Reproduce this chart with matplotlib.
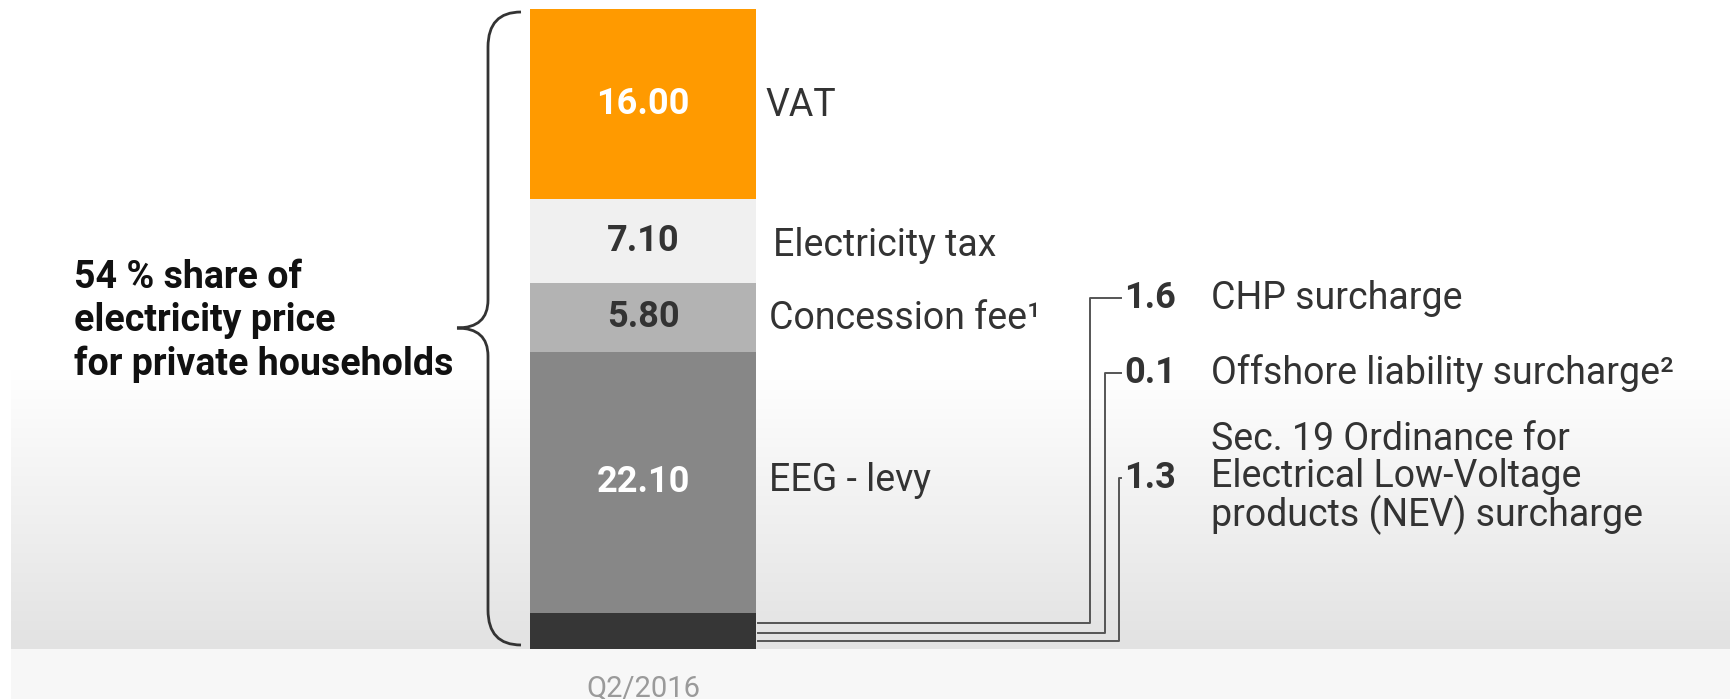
import numpy as np
import matplotlib.pyplot as plt
from matplotlib.path import Path
from matplotlib.patches import PathPatch, Rectangle

plt.rcParams["font.family"] = ["Roboto", "DejaVu Sans"]

# breakdown of the small dark segment at the bottom of the bar
small_values = [1.6, 0.1, 1.3]
small_labels = [
    "CHP surcharge",
    "Offshore liability surcharge\u00b2",
    "Sec. 19 Ordinance for\nElectrical Low-Voltage\nproducts (NEV) surcharge",
]

# stacked segments, bottom to top
seg_labels = ["", "EEG - levy", "Concession fee\u00b9", "Electricity tax", "VAT"]
seg_values = [sum(small_values), 22.10, 5.80, 7.10, 16.00]
seg_colors = ["#363636", "#878787", "#b3b3b3", "#f0f0f0", "#ff9a00"]
seg_text_colors = [None, "white", "#333333", "#333333", "white"]
period = "Q2/2016"

# layout (pixels / value units)
W, H = 1731, 699
bar_top, bar_bottom = 9, 649
bar_left, bar_right = 530, 756
label_dx = [0, 13, 13, 17, 9]           # label offsets right of the bar (px)
label_dy = [0, -2, 1, 5, 2]             # label offsets below segment middle (px)
small_label_y = [29.6, 23.3, 14.4]      # where the small labels sit (value units)
small_line_frac = [0.73, 0.45, 0.22]    # where connectors leave the dark segment
small_line_x = [1090, 1105, 1119]

total = sum(seg_values)
scale = (bar_bottom - bar_top) / total  # pixels per unit

fig = plt.figure(figsize=(W / 100, H / 100), dpi=100)

# background layer in pixel coordinates
bg = fig.add_axes([0, 0, 1, 1], zorder=0)
rows = np.arange(bar_bottom)
t = np.clip((rows - 370) / (bar_bottom - 370), 0, 1)
shade = 1 - t * (1 - 0xe2 / 255)
grad = np.repeat(shade[:, None], 3, axis=1)[:, None, :]
bg.imshow(grad, extent=(11, W, bar_bottom, 0), aspect="auto", interpolation="bilinear")
bg.add_patch(Rectangle((11, bar_bottom), W - 11, H - bar_bottom, color="#f7f7f7", lw=0))
bg.set_xlim(0, W)
bg.set_ylim(H, 0)
bg.axis("off")

# curly brace
P = Path
verts = [(521, 12), (488, 12), (488, 47), (488, 300), (488, 328), (457, 328),
         (488, 328), (488, 356), (488, 610), (488, 645), (521, 645)]
codes = [P.MOVETO, P.CURVE3, P.CURVE3, P.LINETO, P.CURVE3, P.CURVE3,
         P.CURVE3, P.CURVE3, P.LINETO, P.CURVE3, P.CURVE3]
bg.add_patch(PathPatch(Path(verts, codes), fill=False, edgecolor="#333333", lw=2))

bg.text(74, 321, f"{total:.0f} % share of\nelectricity price\nfor private households",
        ha="left", va="center", fontsize=27, fontweight="bold", color="#111111",
        linespacing=1.2)
bg.text((bar_left + bar_right) / 2, 675, period, ha="center", va="top",
        fontsize=21, color="#9a9a9a")

# bar layer: x in pixels, y in value units
ax = fig.add_axes([0, 0, 1, 1], zorder=2)
ax.patch.set_alpha(0)
ax.set_xlim(0, W)
ax.set_ylim(-(H - bar_bottom) / scale, total + bar_top / scale)
ax.axis("off")

xc = (bar_left + bar_right) / 2
bottom = 0
for lab, v, c, tc, dx, dy in zip(seg_labels, seg_values, seg_colors,
                                 seg_text_colors, label_dx, label_dy):
    ax.bar(xc, v, width=bar_right - bar_left, bottom=bottom, color=c, linewidth=0)
    mid = bottom + v / 2
    if tc:
        ax.text(xc, mid, f"{v:.2f}", ha="center", va="center", fontsize=26,
                fontweight="bold", color=tc)
        ax.text(bar_right + dx, mid - dy / scale, lab, ha="left", va="center",
                fontsize=27, color="#333333")
    bottom += v

# connectors from the dark segment to the small labels
for v, lab, ly, frac, xv in zip(small_values, small_labels, small_label_y,
                                small_line_frac, small_line_x):
    yl = seg_values[0] * frac
    ax.plot([bar_right + 2, xv, xv, 1121], [yl, yl, ly, ly],
            color="#555555", lw=1.4, solid_joinstyle="round")
    ax.text(1124, ly, f"{v:.1f}", ha="left", va="center", fontsize=26,
            fontweight="bold", color="#333333")
    ax.text(1211, ly, lab, ha="left", va="center", fontsize=27, color="#333333",
            linespacing=1.0)

fig.savefig("out.png", dpi=100)
